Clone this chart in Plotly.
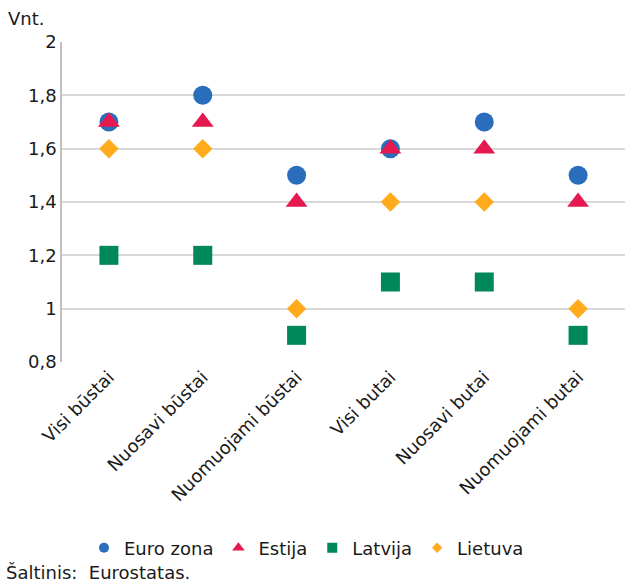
import plotly.graph_objects as go

categories = ["Visi būstai", "Nuosavi būstai", "Nuomuojami būstai",
              "Visi butai", "Nuosavi butai", "Nuomuojami butai"]
euro_zona = [1.7, 1.8, 1.5, 1.6, 1.7, 1.5]
estija = [1.7, 1.7, 1.4, 1.6, 1.6, 1.4]
latvija = [1.2, 1.2, 0.9, 1.1, 1.1, 0.9]
lietuva = [1.6, 1.6, 1.0, 1.4, 1.4, 1.0]
y_ticks = [0.8, 1.0, 1.2, 1.4, 1.6, 1.8, 2.0]

FONT = "DejaVu Sans"
FS = 18
series = [
    ("Euro zona", euro_zona, "circle", "#2A6EBB", 19, 10),
    ("Estija", estija, "triangle-up", "#E5194F", 19, 11),
    ("Latvija", latvija, "square", "#00875A", 19, 10),
    ("Lietuva", lietuva, "diamond", "#FFAB1C", 15, 8),
]

fig = go.Figure()
for name, vals, sym, col, size, _ in series:
    fig.add_trace(go.Scatter(
        x=categories, y=vals, mode="markers", name=name,
        marker=dict(symbol=sym, color=col, size=size, line=dict(width=0)),
        showlegend=False,
    ))
# legend entries with smaller symbols
for name, vals, sym, col, _, lsize in series:
    fig.add_trace(go.Scatter(
        x=[None], y=[None], mode="markers", name=name,
        marker=dict(symbol=sym, color=col, size=lsize, line=dict(width=0)),
    ))

PLOT_TOP, PLOT_BOTTOM = 42, 362

fig.update_layout(
    width=625, height=582,
    margin=dict(l=62, r=0, t=PLOT_TOP, b=582 - PLOT_BOTTOM),
    paper_bgcolor="white", plot_bgcolor="white",
    separators=", ",
    font=dict(family=FONT, size=FS, color="#1a1a1a"),
    legend=dict(orientation="h", xref="container", yref="container",
                x=84 / 625, xanchor="left", y=1 - 548 / 582, yanchor="middle",
                font=dict(size=FS), itemwidth=30, tracegroupgap=0),
    xaxis=dict(type="category", tickangle=-45, showgrid=False,
               showline=False, ticks="", tickfont=dict(size=FS),
               range=[-0.5, 5.5]),
    yaxis=dict(range=[0.8, 2.0], tickvals=y_ticks, showgrid=True,
               gridcolor="#D9D9D9", gridwidth=1.5, showline=True,
               linecolor="#BFBFBF", linewidth=1.5, zeroline=False,
               ticks="", ticklen=4, tickcolor="white",
               tickfont=dict(size=FS)),
)
fig.add_annotation(text="Vnt.", xref="paper", yref="paper", x=0, y=1,
                   xshift=-56, yshift=24, xanchor="left", yanchor="middle",
                   showarrow=False, font=dict(size=FS))
fig.add_annotation(text="Šaltinis:  Eurostatas.", xref="paper", yref="paper",
                   x=0, y=(PLOT_BOTTOM - 572) / (PLOT_BOTTOM - PLOT_TOP),
                   xshift=-58, xanchor="left",
                   yanchor="middle", showarrow=False, font=dict(size=FS))

fig.write_html("out.html")
